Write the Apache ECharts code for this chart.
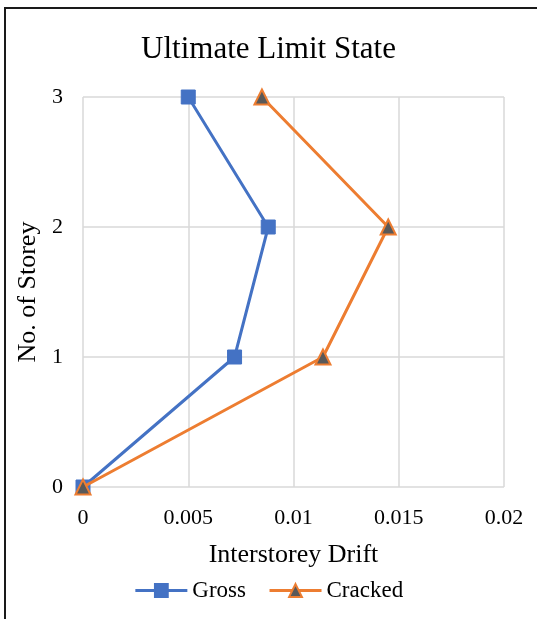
<!DOCTYPE html>
<html>
<head>
<meta charset="utf-8">
<script src="https://cdn.jsdelivr.net/npm/echarts@6/dist/echarts.min.js"></script>
<style>
html, body { margin: 0; padding: 0; background: #fff; overflow: hidden; }
.frame { position: absolute; left: 4px; top: 7px; width: 700px; height: 800px;
  border-left: 2px solid #1a1a1a; border-top: 2px solid #1a1a1a; pointer-events: none; }
#chart { position: absolute; left: 0; top: 0; width: 537px; height: 619px; }
</style>
</head>
<body>
<div id="chart"></div>
<div class="frame"></div>
<script>
// storey levels and interstorey drift
var storeys = [0, 1, 2, 3];
var grossDrift = [0, 0.0072, 0.0088, 0.005];
var crackedDrift = [0, 0.0114, 0.0145, 0.0085];
var driftTicks = [0, 0.005, 0.01, 0.015, 0.02];

var serif = '"Liberation Serif", "DejaVu Serif", serif';

function pairs(xs, ys) {
  var out = [];
  for (var i = 0; i < xs.length; i++) out.push([xs[i], ys[i]]);
  return out;
}

var oChart = echarts.init(document.getElementById('chart'));
var opt = {
  animation: false,
  title: {
    text: 'Ultimate Limit State',
    left: 'center',
    top: 29,
    textStyle: { fontFamily: serif, fontSize: 31, fontWeight: 'normal', color: '#000' }
  },
  legend: {
    bottom: 12,
    left: 'center',
    itemWidth: 52,
    itemHeight: 16,
    itemGap: 22,
    lineStyle: { width: 3 },
    textStyle: { fontFamily: serif, fontSize: 23, color: '#000' },
    data: ['Gross', 'Cracked']
  },
  grid: { left: 83, right: 33, top: 97, bottom: 132, containLabel: false },
  xAxis: {
    type: 'value',
    min: 0,
    max: 0.02,
    interval: 0.005,
    name: 'Interstorey Drift',
    nameLocation: 'middle',
    nameGap: 55,
    nameTextStyle: { fontFamily: serif, fontSize: 26, color: '#000' },
    axisLine: { show: false },
    axisTick: { show: false },
    axisLabel: {
      fontFamily: serif, fontSize: 22, color: '#000', margin: 20,
      formatter: function (v) {
        for (var i = 0; i < driftTicks.length; i++) {
          if (Math.abs(driftTicks[i] - v) < 1e-9) return String(driftTicks[i]);
        }
        return '';
      }
    },
    splitLine: { show: true, lineStyle: { color: '#d9d9d9', width: 1.5 } }
  },
  yAxis: {
    type: 'value',
    min: 0,
    max: 3,
    interval: 1,
    name: 'No. of Storey',
    nameLocation: 'middle',
    nameGap: 31,
    nameTextStyle: { fontFamily: serif, fontSize: 26, color: '#000' },
    axisLine: { show: false },
    axisTick: { show: false },
    axisLabel: { fontFamily: serif, fontSize: 22, color: '#000', margin: 20 },
    splitLine: { show: true, lineStyle: { color: '#d9d9d9', width: 1.5 } }
  },
  series: [
    {
      name: 'Gross',
      type: 'line',
      data: pairs(grossDrift, storeys),
      symbol: 'rect',
      symbolSize: 14,
      lineStyle: { color: '#4472C4', width: 3 },
      itemStyle: { color: '#4472C4', borderColor: '#4472C4', borderWidth: 1 },
      z: 2
    },
    {
      name: 'Cracked',
      type: 'line',
      data: pairs(crackedDrift, storeys),
      symbol: 'triangle',
      symbolSize: 15,
      lineStyle: { color: '#ED7D31', width: 3 },
      itemStyle: { color: '#595959', borderColor: '#ED7D31', borderWidth: 2 },
      z: 3
    }
  ]
};
oChart.setOption(opt);
</script>
</body>
</html>
